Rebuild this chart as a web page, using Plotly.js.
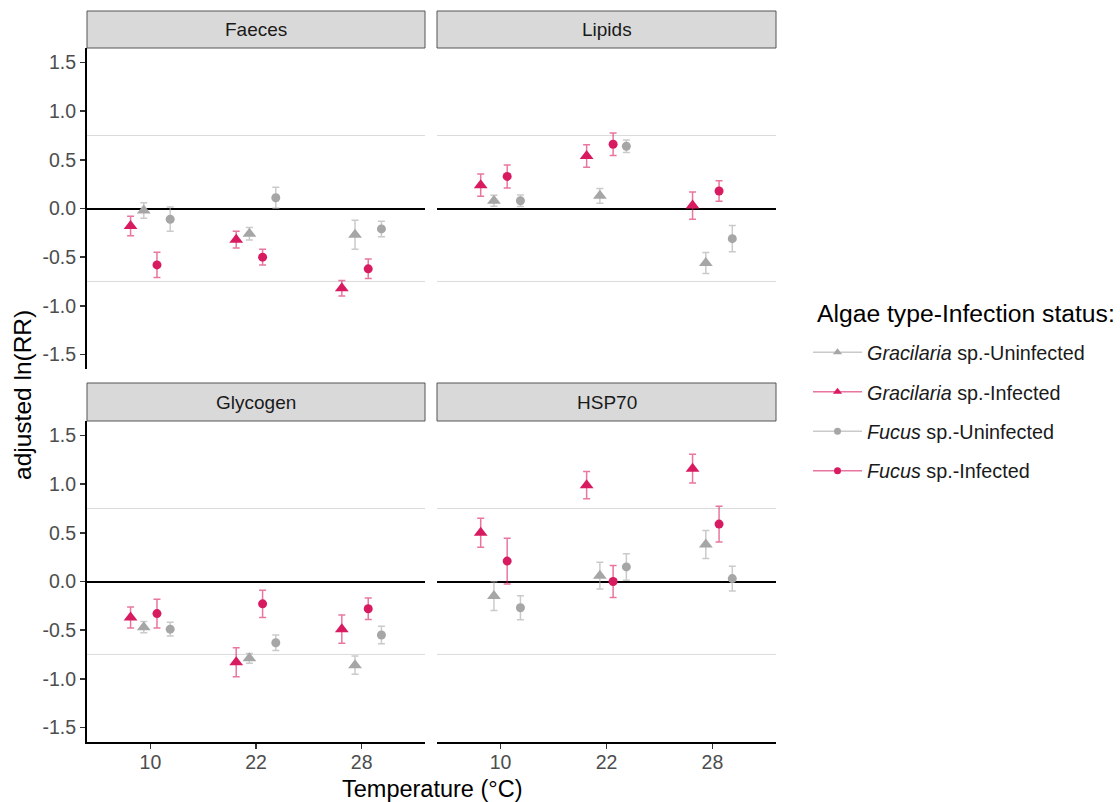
<!DOCTYPE html>
<html><head><meta charset="utf-8">
<script src="https://cdn.plot.ly/plotly-3.0.1.min.js"></script>
<style>html,body{margin:0;padding:0;background:#fff}</style>
</head><body><div id="chart" style="width:1120px;height:802px"></div>
<script>
// ---------- data ----------
const temperatures = ['10', '22', '28'];
const panels = ['Faeces', 'Lipids', 'Glycogen', 'HSP70'];
const legendTitle = 'Algae type-Infection status:';
const seriesNames = ['<i>Gracilaria</i> sp.-Uninfected', '<i>Gracilaria</i> sp.-Infected',
                     '<i>Fucus</i> sp.-Uninfected', '<i>Fucus</i> sp.-Infected'];
const yTickLabels = ['-1.5', '-1.0', '-0.5', '0.0', '0.5', '1.0', '1.5'];
const refLines = [-0.75, 0.75];

// Faeces
const faecesGracUninf = [-0.02, -0.26, -0.27];
const faecesGracUninfErr = [0.08, 0.065, 0.15];
const faecesGracInf = [-0.18, -0.32, -0.82];
const faecesGracInfErr = [0.10, 0.085, 0.08];
const faecesFucUninf = [-0.11, 0.11, -0.21];
const faecesFucUninfErr = [0.125, 0.108, 0.08];
const faecesFucInf = [-0.58, -0.50, -0.62];
const faecesFucInfErr = [0.13, 0.08, 0.10];
// Lipids
const lipidsGracUninf = [0.08, 0.13, -0.56];
const lipidsGracUninfErr = [0.057, 0.075, 0.108];
const lipidsGracInf = [0.24, 0.54, 0.03];
const lipidsGracInfErr = [0.115, 0.116, 0.14];
const lipidsFucUninf = [0.08, 0.64, -0.31];
const lipidsFucUninfErr = [0.06, 0.065, 0.135];
const lipidsFucInf = [0.33, 0.66, 0.18];
const lipidsFucInfErr = [0.118, 0.116, 0.106];
// Glycogen
const glycogenGracUninf = [-0.47, -0.79, -0.86];
const glycogenGracUninfErr = [0.058, 0.05, 0.093];
const glycogenGracInf = [-0.37, -0.83, -0.49];
const glycogenGracInfErr = [0.107, 0.148, 0.146];
const glycogenFucUninf = [-0.49, -0.63, -0.55];
const glycogenFucUninfErr = [0.07, 0.08, 0.09];
const glycogenFucInf = [-0.33, -0.23, -0.28];
const glycogenFucInfErr = [0.148, 0.14, 0.11];
// HSP70
const hspGracUninf = [-0.15, 0.06, 0.38];
const hspGracUninfErr = [0.147, 0.137, 0.144];
const hspGracInf = [0.50, 0.99, 1.16];
const hspGracInfErr = [0.149, 0.14, 0.148];
const hspFucUninf = [-0.27, 0.15, 0.03];
const hspFucUninfErr = [0.124, 0.136, 0.127];
const hspFucInf = [0.21, 0.00, 0.59];
const hspFucInfErr = [0.235, 0.165, 0.184];

const panelData = [
  [[faecesGracUninf, faecesGracUninfErr], [faecesGracInf, faecesGracInfErr], [faecesFucUninf, faecesFucUninfErr], [faecesFucInf, faecesFucInfErr]],
  [[lipidsGracUninf, lipidsGracUninfErr], [lipidsGracInf, lipidsGracInfErr], [lipidsFucUninf, lipidsFucUninfErr], [lipidsFucInf, lipidsFucInfErr]],
  [[glycogenGracUninf, glycogenGracUninfErr], [glycogenGracInf, glycogenGracInfErr], [glycogenFucUninf, glycogenFucUninfErr], [glycogenFucInf, glycogenFucInfErr]],
  [[hspGracUninf, hspGracUninfErr], [hspGracInf, hspGracInfErr], [hspFucUninf, hspFucUninfErr], [hspFucInf, hspFucInfErr]]
];

// ---------- styles ----------
const FONT = 'Liberation Sans, Arial, sans-serif';
const PINK = '#D81B60', PINK_L = 'rgba(216,27,96,0.6)';
const GREY = '#A6A6A6', GREY_L = 'rgba(166,166,166,0.6)';
const seriesStyle = [
  {symbol: 'triangle-up', size: 12, color: GREY, light: GREY_L, dodge: -0.0625},
  {symbol: 'triangle-up', size: 12, color: PINK, light: PINK_L, dodge: -0.1875},
  {symbol: 'circle', size: 9, color: GREY, light: GREY_L, dodge: 0.1875},
  {symbol: 'circle', size: 9, color: PINK, light: PINK_L, dodge: 0.0625}
];
const W = 1120, H = 802;
const colsPx = [[87, 425], [437, 776]];
const rowsPx = [[48, 369], [421, 742]];
const stripPx = [[11, 48], [383, 421]];
const px = v => v / W, py = v => 1 - v / H;

const traces = [];
const shapes = [];
const annotations = [];
const layout = {
  width: W, height: H, margin: {l: 0, r: 0, t: 0, b: 0},
  paper_bgcolor: '#fff', plot_bgcolor: '#fff',
  font: {family: FONT, color: '#1a1a1a'},
  showlegend: true,
  legend: {
    x: px(808), y: py(333), xanchor: 'left', yanchor: 'top',
    bgcolor: 'rgba(0,0,0,0)',
    font: {size: 19.8, color: '#1a1a1a', family: FONT},
    tracegroupgap: 10.7, itemwidth: 49
  }
};

panels.forEach((name, p) => {
  const row = Math.floor(p / 2), col = p % 2;
  const sfx = p === 0 ? '' : String(p + 1);
  const xa = 'x' + sfx, ya = 'y' + sfx;
  const bottom = row === 1, left = col === 0;
  layout['xaxis' + sfx] = {
    domain: [px(colsPx[col][0]), px(colsPx[col][1])], anchor: ya,
    range: [0.4, 3.6], tickvals: temperatures.map((t, i) => i + 1), ticktext: temperatures,
    showgrid: false, zeroline: false,
    showline: bottom, linecolor: '#000', linewidth: 2,
    ticks: bottom ? 'outside' : '', ticklen: 5, tickwidth: 1.5, tickcolor: '#333',
    ticklabelstandoff: -3,
    showticklabels: bottom, tickfont: {size: 19.5, color: '#4D4D4D', family: FONT}
  };
  layout['yaxis' + sfx] = {
    domain: [py(rowsPx[row][1]), py(rowsPx[row][0])], anchor: xa,
    range: [-1.65, 1.65], tickvals: yTickLabels.map(Number), ticktext: yTickLabels,
    showgrid: false, zeroline: true, zerolinecolor: '#000', zerolinewidth: 2,
    showline: left, linecolor: '#000', linewidth: 2,
    ticks: left ? 'outside' : '', ticklen: 5, tickwidth: 1.5, tickcolor: '#333',
    showticklabels: left, tickfont: {size: 19.5, color: '#4D4D4D', family: FONT}
  };
  refLines.forEach(v => shapes.push({
    type: 'line', xref: xa + ' domain', yref: ya, x0: 0, x1: 1, y0: v, y1: v,
    line: {color: '#DADADA', width: 1}, layer: 'below'
  }));
  // strip
  shapes.push({
    type: 'rect', xref: 'paper', yref: 'paper',
    x0: px(colsPx[col][0]), x1: px(colsPx[col][1]), y0: py(stripPx[row][1]), y1: py(stripPx[row][0]),
    fillcolor: '#D9D9D9', line: {color: '#555', width: 1}
  });
  annotations.push({
    xref: 'paper', yref: 'paper', x: px((colsPx[col][0] + colsPx[col][1]) / 2),
    y: py((stripPx[row][0] + stripPx[row][1]) / 2), text: name, showarrow: false,
    xanchor: 'center', yanchor: 'middle', font: {size: 19, color: '#1a1a1a', family: FONT}
  });
  panelData[p].forEach(([vals, errs], s) => {
    const st = seriesStyle[s];
    traces.push({
      type: 'scatter', mode: 'markers', xaxis: xa, yaxis: ya, showlegend: false,
      name: seriesNames[s],
      x: temperatures.map((t, i) => i + 1 + st.dodge), y: vals,
      error_y: {type: 'data', array: errs, visible: true, color: st.light, thickness: 1.5, width: 3.5},
      marker: {symbol: st.symbol, size: st.size, color: st.color}
    });
  });
});

// legend entries
seriesNames.forEach((n, s) => {
  const st = seriesStyle[s];
  traces.push({
    type: 'scatter', mode: 'lines+markers', x: [null], y: [null], name: n,
    legendgroup: 'g' + s, showlegend: true,
    line: {color: st.light, width: 1.5},
    marker: {symbol: st.symbol, size: st.symbol === 'circle' ? 7 : 8, color: st.color}
  });
});

annotations.push({
  xref: 'paper', yref: 'paper', x: px(815), y: py(314), text: legendTitle,
  showarrow: false, xanchor: 'left', yanchor: 'middle', font: {size: 24.7, color: '#000', family: FONT}
});
annotations.push({
  xref: 'paper', yref: 'paper', x: px(22), y: py(395), text: 'adjusted ln(RR)', textangle: -90,
  showarrow: false, xanchor: 'center', yanchor: 'middle', font: {size: 24.5, color: '#000', family: FONT}
});
annotations.push({
  xref: 'paper', yref: 'paper', x: px(431.5), y: py(788.5), text: 'Temperature (°C)', borderpad: 0,
  showarrow: false, xanchor: 'center', yanchor: 'middle', font: {size: 23.5, color: '#000', family: FONT}
});
layout.shapes = shapes;
layout.annotations = annotations;

Plotly.newPlot('chart', traces, layout, {displayModeBar: false, staticPlot: true});
</script>
</body></html>
